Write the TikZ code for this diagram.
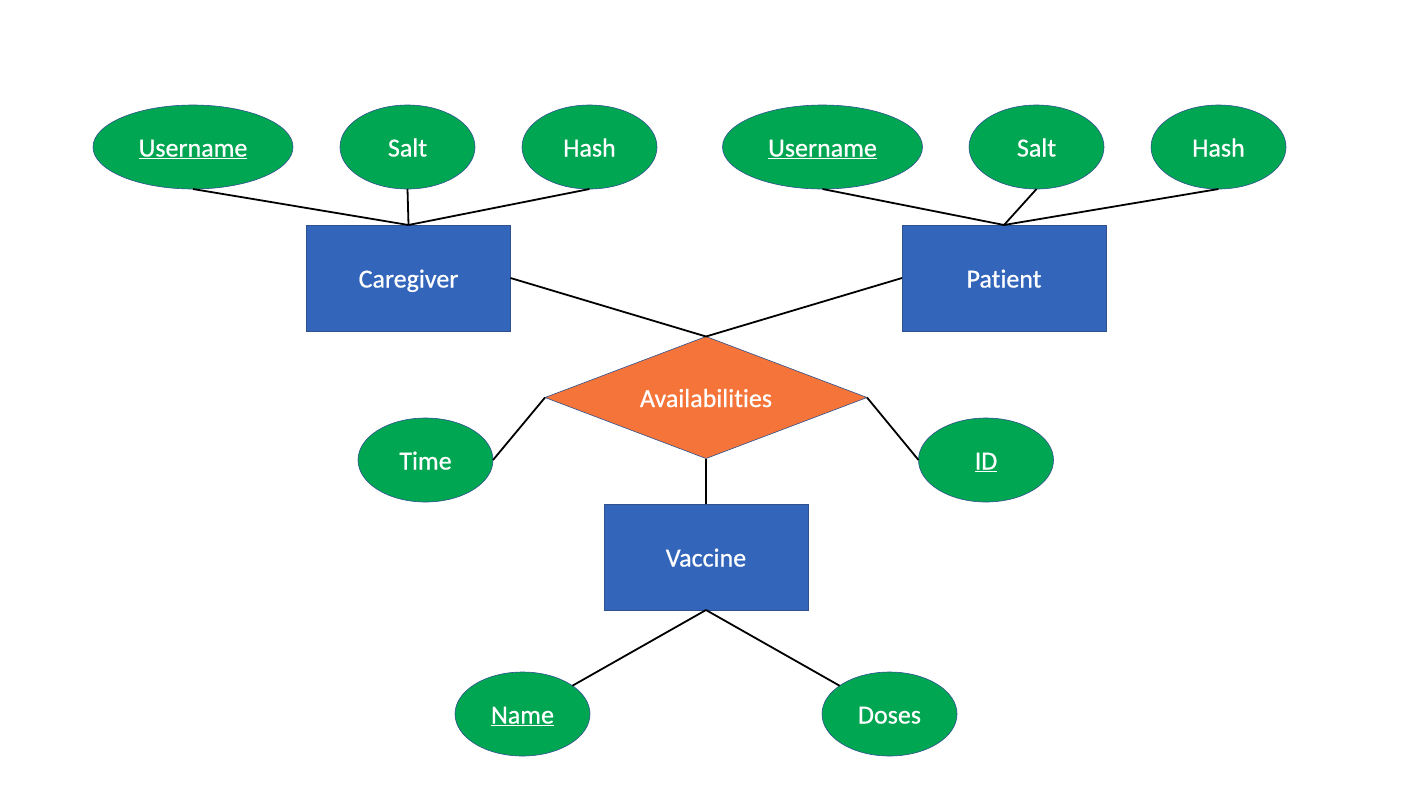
\documentclass[tikz,border=0pt]{standalone}
\usepackage{fontspec}
\setmainfont[FakeBold=0.6,Ligatures={NoCommon}]{Carlito}
\usetikzlibrary{shapes.geometric}
\definecolor{attrgreen}{RGB}{0,166,81}
\definecolor{entblue}{RGB}{51,102,187}
\definecolor{relorange}{RGB}{244,116,57}
\definecolor{edgeblue}{RGB}{47,82,143}
\begin{document}
\begin{tikzpicture}[x=1pt,y=-1pt,
  every node/.style={font=\fontsize{26}{30}\selectfont, text=white, inner sep=0pt, outer sep=0pt, text height=19pt, text depth=0pt},
  attr/.style={ellipse, fill=attrgreen, draw=edgeblue, line width=0.6pt, minimum width=135pt, minimum height=84pt},
  wideattr/.style={attr, minimum width=200pt},
  entity/.style={rectangle, fill=entblue, draw=edgeblue, line width=0.6pt, minimum width=204pt, minimum height=106pt},
  rel/.style={diamond, aspect=2.64, fill=relorange, draw=edgeblue, line width=0.6pt, minimum width=322pt, minimum height=122pt},
  link/.style={draw=black, line width=1.8pt}]
\useasboundingbox (0,0) rectangle (1410,793);
% entities
\node[entity] (care) at (408.5,278) {Caregiver};
\node[entity] (pat) at (1004,278) {Patient};
\node[entity] (vac) at (706,557) {Vaccine};
\node[rel] (avail) at (706,397.5) {Availabilities};
% attributes
\node[wideattr] (cuser) at (193,147) {\underline{Username}};
\node[attr] (csalt) at (407.5,147) {Salt};
\node[attr] (chash) at (589.5,147) {Hash};
\node[wideattr] (puser) at (822.5,147) {\underline{Username}};
\node[attr] (psalt) at (1036.5,147) {Salt};
\node[attr] (phash) at (1218.5,147) {Hash};
\node[attr] (time) at (425.5,460) {Time};
\node[attr] (id) at (986,460) {\underline{ID}};
\node[attr] (name) at (522.5,714) {\underline{Name}};
\node[attr] (doses) at (889.5,714) {Doses};
% links
\draw[link] (cuser.south) -- (care.north);
\draw[link] (csalt.south) -- (care.north);
\draw[link] (chash.south) -- (care.north);
\draw[link] (puser.south) -- (pat.north);
\draw[link] (psalt.south) -- (pat.north);
\draw[link] (phash.south) -- (pat.north);
\draw[link] (care.east) -- (avail.north);
\draw[link] (pat.west) -- (avail.north);
\draw[link] (avail.west) -- (time.east);
\draw[link] (avail.east) -- (id.west);
\draw[link] (avail.south) -- (vac.north);
\draw[link] (vac.south) -- (name);
\draw[link] (vac.south) -- (doses);
\end{tikzpicture}
\end{document}
